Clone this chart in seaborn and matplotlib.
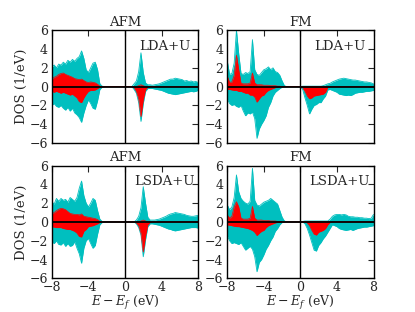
import numpy as np
import matplotlib
matplotlib.use("Agg")
import matplotlib.pyplot as plt
import seaborn as sns

# energy grid (eV), 0.25 eV steps from -8 to 8
energy = np.linspace(-8, 8, 65)

# AFM, LDA+U  (spin-down values stored as magnitudes)
afm_lda_up_tot = [2.1, 2.3, 2.0, 2.4, 2.3, 2.6, 2.4, 2.8,
                  2.6, 2.9, 2.7, 3.0, 3.2, 3.8, 3.0, 1.8,
                  1.5, 2.0, 2.5, 2.6, 1.8, 0.3, 0.05, 0] + [0] * 8 + \
                 [0, 0, 0, 0, 0.3, 0.6, 1.6, 3.6,
                  1.5, 0.4, 0.2, 0.2, 0.15, 0.2, 0.25, 0.3,
                  0.4, 0.5, 0.6, 0.7, 0.8, 0.8, 0.9, 0.85,
                  0.8, 0.75, 0.6, 0.65, 0.55, 0.6, 0.5, 0.55, 0.45]
afm_lda_dn_tot = [2.0, 1.8, 2.1, 2.2, 2.0, 2.3, 2.5, 2.2,
                  2.6, 2.3, 2.8, 3.0, 3.3, 3.8, 2.8, 2.0,
                  1.4, 1.8, 2.3, 2.4, 1.5, 0.3, 0.05, 0] + [0] * 8 + \
                 [0, 0, 0, 0, 0.3, 0.7, 1.7, 3.7,
                  1.8, 0.5, 0.2, 0.2, 0.2, 0.25, 0.3, 0.35,
                  0.4, 0.5, 0.6, 0.7, 0.75, 0.8, 0.85, 0.8,
                  0.75, 0.7, 0.65, 0.6, 0.55, 0.5, 0.55, 0.5, 0.4]
afm_lda_up_d = [0.8, 1.0, 1.1, 1.3, 1.4, 1.45, 1.3, 1.2,
                1.1, 1.0, 0.85, 0.8, 0.75, 0.8, 0.65, 0.5,
                0.45, 0.5, 0.45, 0.4, 0.25, 0.05, 0, 0] + [0] * 8 + \
               [0, 0, 0, 0, 0, 0, 0.1, 0.2,
                0.1, 0, 0, 0, 0, 0, 0, 0] + [0] * 17
afm_lda_dn_d = [0.5, 0.6, 0.5, 0.6, 0.7, 0.6, 0.7, 0.8,
                0.9, 0.8, 1.0, 1.2, 1.6, 1.7, 1.2, 0.8,
                0.5, 0.4, 0.4, 0.35, 0.2, 0.05, 0, 0] + [0] * 8 + \
               [0, 0, 0, 0, 0.1, 0.5, 1.3, 3.2,
                1.4, 0.3, 0.05, 0, 0, 0, 0, 0] + [0] * 17

# FM, LDA+U
fm_lda_up_tot = [2.7, 1.3, 1.4, 2.5, 6.0, 3.5, 1.4, 1.3,
                 1.5, 1.4, 1.6, 5.0, 1.8, 1.3, 1.2, 1.5,
                 1.8, 1.9, 2.1, 1.8, 2.0, 1.6, 1.5, 1.2,
                 0.6, 0.1, 0, 0, 0, 0, 0, 0,
                 0, 0.05, 0.05, 0.05, 0.05, 0.05, 0.05, 0.05,
                 0.05, 0.05, 0.1, 0.2, 0.3, 0.35, 0.5, 0.6,
                 0.7, 0.8, 0.85, 0.9, 0.85, 0.8, 0.75, 0.7,
                 0.7, 0.65, 0.6, 0.55, 0.5, 0.5, 0.45, 0.4, 0.3]
fm_lda_dn_tot = [1.3, 1.8, 2.0, 1.9, 2.1, 2.2, 2.0, 2.6,
                 3.1, 2.8, 2.9, 2.7, 3.4, 5.5, 4.5, 4.0,
                 3.6, 3.1, 2.2, 1.7, 1.0, 0.6, 0.4, 0.2,
                 0.05, 0, 0, 0, 0, 0, 0, 0,
                 0, 0.3, 1.2, 2.0, 2.9, 2.4, 2.0, 1.9,
                 1.7, 1.7, 1.3, 1.0, 0.35, 0.3, 0.4, 0.5,
                 0.6, 0.8, 0.85, 0.9, 0.95, 0.9, 0.95, 0.85,
                 0.7, 0.65, 0.6, 0.6, 0.55, 0.5, 0.5, 0.45, 0.4]
fm_lda_up_d = [1.1, 0.45, 0.5, 1.2, 3.35, 1.8, 0.35, 0.3,
               0.3, 0.3, 0.4, 1.45, 0.4, 0.2, 0.2, 0.2,
               0.15, 0.15, 0.15, 0.1, 0.1, 0.1, 0.05, 0.05] + [0] * 41
fm_lda_dn_d = [0.3, 0.3, 0.35, 0.4, 0.4, 0.5, 0.5, 0.6,
               0.7, 0.7, 0.9, 0.9, 1.1, 1.65, 1.3, 1.0,
               0.9, 0.6, 0.4, 0.3, 0.2, 0.1, 0.05, 0] + [0] * 8 + \
              [0, 0.1, 0.5, 1.0, 1.3, 1.2, 1.0, 0.95,
               0.9, 0.85, 0.8, 0.6, 0.05, 0, 0, 0] + [0] * 17

# AFM, LSDA+U
afm_lsda_up_tot = [2.15, 1.9, 2.5, 2.2, 2.5, 2.3, 2.4, 2.1,
                   2.6, 2.4, 2.2, 2.6, 3.6, 4.35, 2.8, 2.0,
                   1.6, 2.0, 2.5, 2.3, 1.2, 0.3, 0.05, 0] + [0] * 8 + \
                  [0, 0, 0, 0, 0, 0.2, 0.6, 1.5,
                   3.75, 2.0, 0.5, 0.2, 0.2, 0.2, 0.25, 0.3,
                   0.4, 0.5, 0.6, 0.75, 0.85, 0.9, 1.0, 0.95,
                   0.9, 0.85, 0.8, 0.7, 0.65, 0.6, 0.6, 0.65, 0.7]
afm_lsda_dn_tot = [2.1, 2.3, 2.0, 2.4, 2.45, 2.2, 2.6, 2.3,
                   2.6, 2.5, 2.1, 2.8, 3.4, 4.4, 2.8, 2.0,
                   1.75, 2.3, 2.8, 2.5, 1.3, 0.3, 0.05, 0] + [0] * 8 + \
                  [0, 0, 0, 0, 0, 0.2, 0.6, 1.4,
                   3.7, 1.9, 0.5, 0.2, 0.2, 0.25, 0.3, 0.35,
                   0.45, 0.55, 0.65, 0.75, 0.8, 0.9, 0.95, 0.9,
                   0.85, 0.8, 0.75, 0.7, 0.65, 0.6, 0.6, 0.6, 0.65]
afm_lsda_up_d = [0.9, 1.0, 1.2, 1.35, 1.45, 1.4, 1.3, 1.1,
                 0.9, 0.85, 0.8, 0.8, 0.75, 0.85, 0.6, 0.55,
                 0.5, 0.45, 0.4, 0.35, 0.25, 0.05, 0, 0] + [0] * 8 + \
                [0, 0, 0, 0, 0, 0, 0, 0.1,
                 0.2, 0.1, 0, 0, 0, 0, 0, 0] + [0] * 17
afm_lsda_dn_d = [0.5, 0.55, 0.6, 0.6, 0.6, 0.7, 0.75, 0.8,
                 0.8, 0.9, 1.0, 1.2, 1.55, 1.6, 1.0, 0.8,
                 0.5, 0.45, 0.4, 0.3, 0.2, 0.05, 0, 0] + [0] * 8 + \
                [0, 0, 0, 0, 0, 0.1, 0.4, 1.2,
                 3.2, 1.5, 0.3, 0.05, 0, 0, 0, 0] + [0] * 17

# FM, LSDA+U
fm_lsda_up_tot = [1.8, 1.3, 1.6, 2.6, 5.0, 3.2, 2.5, 2.2,
                  2.0, 1.9, 2.2, 5.7, 2.3, 1.8, 1.7, 1.9,
                  2.1, 2.2, 2.3, 2.5, 2.3, 2.1, 1.9, 1.2,
                  0.5, 0.1, 0, 0, 0, 0, 0, 0,
                  0, 0.05, 0.1, 0.1, 0.1, 0.1, 0.1, 0.1,
                  0.1, 0.1, 0.1, 0.1, 0.1, 0.3, 0.6, 0.75,
                  0.8, 0.8, 0.75, 0.8, 0.75, 0.6, 0.55, 0.55,
                  0.5, 0.5, 0.45, 0.45, 0.4, 0.4, 0.35, 0.4, 0.8]
fm_lsda_dn_tot = [1.5, 2.0, 2.3, 2.2, 2.3, 2.4, 2.2, 2.6,
                  3.0, 2.8, 2.6, 2.9, 3.7, 5.3, 4.3, 4.0,
                  3.5, 2.9, 2.5, 2.0, 1.6, 1.0, 0.7, 0.3,
                  0.05, 0, 0, 0, 0, 0, 0, 0,
                  0, 0, 0.2, 0.7, 1.4, 2.2, 3.0, 3.1,
                  2.5, 2.2, 1.8, 1.5, 1.1, 0.7, 0.3, 0.4,
                  0.5, 0.7, 0.8, 0.85, 0.9, 0.85, 0.8, 0.9,
                  0.8, 0.7, 0.65, 0.6, 0.55, 0.55, 0.5, 0.45, 0.4]
fm_lsda_up_d = [0.75, 0.4, 0.6, 1.6, 2.15, 1.6, 0.4, 0.3,
                0.3, 0.3, 0.4, 1.65, 0.4, 0.2, 0.2, 0.2,
                0.15, 0.15, 0.15, 0.1, 0.1, 0.1, 0.05, 0.05] + [0] * 41
fm_lsda_dn_d = [0.3, 0.35, 0.4, 0.45, 0.5, 0.5, 0.55, 0.6,
                0.65, 0.7, 0.8, 0.9, 1.1, 1.45, 1.2, 1.0,
                0.9, 0.6, 0.4, 0.3, 0.2, 0.1, 0.05, 0] + [0] * 8 + \
               [0, 0, 0, 0.1, 0.4, 0.9, 1.3, 1.4,
                1.1, 1.0, 0.9, 0.7, 0.3, 0.05, 0, 0] + [0] * 17

titles = ["AFM", "FM", "AFM", "FM"]
methods = ["LDA+U", "LDA+U", "LSDA+U", "LSDA+U"]
panels = [
    (afm_lda_up_tot, afm_lda_dn_tot, afm_lda_up_d, afm_lda_dn_d),
    (fm_lda_up_tot, fm_lda_dn_tot, fm_lda_up_d, fm_lda_dn_d),
    (afm_lsda_up_tot, afm_lsda_dn_tot, afm_lsda_up_d, afm_lsda_dn_d),
    (fm_lsda_up_tot, fm_lsda_dn_tot, fm_lsda_up_d, fm_lsda_dn_d),
]

CYAN = (0.0, 0.75, 0.75)
RED = (1.0, 0.0, 0.0)
FS = 9.5

sns.set_theme(style="white")
plt.rcParams["font.family"] = ["DejaVu Serif"]
plt.rcParams["mathtext.fontset"] = "dejavuserif"
plt.rcParams["axes.edgecolor"] = "black"

fig, axes = plt.subplots(2, 2, figsize=(4.15, 3.12), dpi=100, sharex=True)
fig.subplots_adjust(left=0.125, right=0.9, bottom=0.108, top=0.903,
                    wspace=0.2, hspace=0.2)

for i, ax in enumerate(axes.flat):
    up_tot, dn_tot, up_d, dn_d = [np.array(v, dtype=float) for v in panels[i]]

    # total DOS
    ax.fill_between(energy, 0, up_tot, color=CYAN, lw=0, zorder=1)
    ax.fill_between(energy, 0, -dn_tot, color=CYAN, lw=0, zorder=1)
    sns.lineplot(x=energy, y=up_tot, ax=ax, color=CYAN, lw=0.6, zorder=1)
    sns.lineplot(x=energy, y=-dn_tot, ax=ax, color=CYAN, lw=0.6, zorder=1)

    # projected DOS
    ax.fill_between(energy, 0, up_d, color=RED, lw=0, zorder=2)
    ax.fill_between(energy, 0, -dn_d, color=RED, lw=0, zorder=2)
    sns.lineplot(x=energy, y=up_d, ax=ax, color=RED, lw=0.5, zorder=2)
    sns.lineplot(x=energy, y=-dn_d, ax=ax, color=RED, lw=0.5, zorder=2)

    ax.axhline(0, color="black", lw=1.3, zorder=3)
    ax.axvline(0, color="black", lw=1.0, zorder=3)

    ax.set_xlim(-8, 8)
    ax.set_ylim(-6, 6)
    ax.set_xticks([-8, -4, 0, 4, 8])
    ax.set_yticks([-6, -4, -2, 0, 2, 4, 6])
    ax.tick_params(direction="in", top=True, right=True, length=4,
                   width=0.8, labelsize=9)
    ax.tick_params(axis="x", pad=2)
    ax.tick_params(axis="y", pad=3)
    for sp in ax.spines.values():
        sp.set_linewidth(1.0)
        sp.set_color("black")

    ax.set_title(titles[i], fontsize=FS, pad=3)
    ax.text(0.77, 0.855, methods[i], transform=ax.transAxes,
            ha="center", va="center", fontsize=FS)

    ax.set_xlabel("")
    ax.set_ylabel("")
    if i % 2 == 0:
        ax.set_ylabel("DOS (1/eV)", fontsize=FS, labelpad=1)
    if i >= 2:
        ax.set_xlabel("$E - E_f$ (eV)", fontsize=9, labelpad=0)

fig.savefig("out.png", dpi=100)
